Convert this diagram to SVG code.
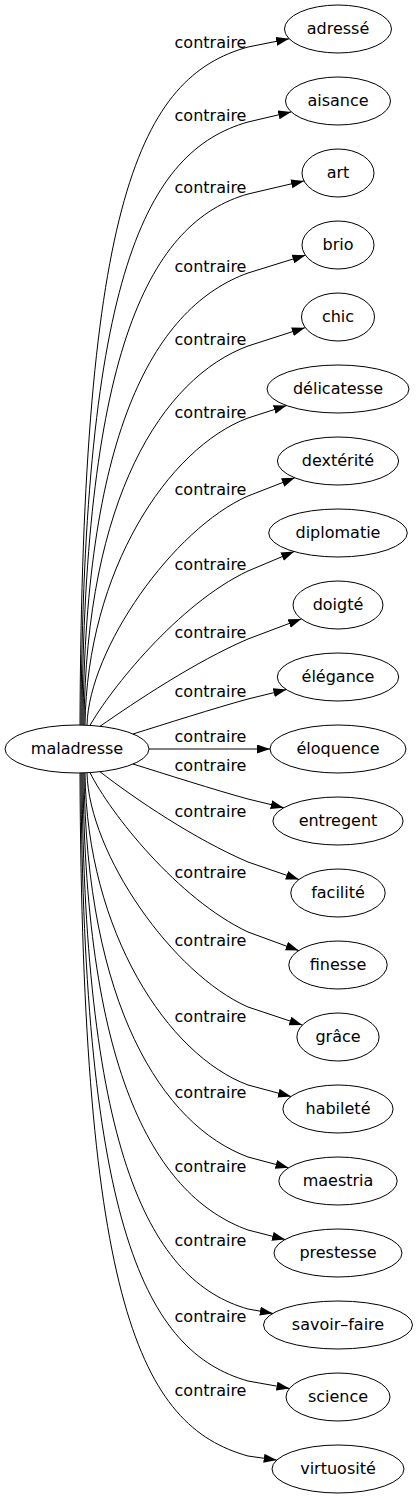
<svg xmlns="http://www.w3.org/2000/svg" width="417" height="1499" viewBox="0 0 417 1499">
<style>
.n ellipse{fill:none;stroke:#000;stroke-width:1}
text{font-family:"DejaVu Sans",sans-serif;font-size:16px;text-anchor:middle;fill:#000}
.e path{fill:none;stroke:#000;stroke-width:1;marker-end:url(#a)}
</style>
<defs><marker id="a" markerUnits="userSpaceOnUse" markerWidth="14" markerHeight="10" refX="13" refY="4.5" orient="auto"><path d="M0,0 L13,4.5 L0,9 z" fill="#000"/></marker></defs>
<rect width="417" height="1499" fill="#fff"/>
<g id="edges">
<g class="e"><path d="M80,725 C82,200 140,77 248,47 L289.1,38.8"/><text x="210.5" y="48">contraire</text></g>
<g class="e"><path d="M81,725 C83,275 146,150.9 248,122 L291.2,111.9"/><text x="210.5" y="121">contraire</text></g>
<g class="e"><path d="M82,725 C84,347 151,221.5 248,194 L304,180.9"/><text x="210.5" y="193">contraire</text></g>
<g class="e"><path d="M83,725 C85,426 157,305.9 248,273 L305.4,255.2"/><text x="210.5" y="272">contraire</text></g>
<g class="e"><path d="M84,725 C86,499 162,378 248,346 L304.9,327.7"/><text x="210.5" y="345">contraire</text></g>
<g class="e"><path d="M85,725 C87,571 168,447.8 248,418 L286.6,405.6"/><text x="210.5" y="418">contraire</text></g>
<g class="e"><path d="M87,725 C89,649 173,528.9 248,496 L294.8,477.8"/><text x="210.5" y="495">contraire</text></g>
<g class="e"><path d="M90,725.4 C110,690 178,604 248,571 L294.1,551.6"/><text x="210.5" y="570">contraire</text></g>
<g class="e"><path d="M100,726.3 C135,702 195,661.7 248,639 L301.3,618.9"/><text x="210.5" y="638">contraire</text></g>
<g class="e"><path d="M133,734 C165,724 215,708 248,699 L286.4,689.6"/><text x="210.5" y="697">contraire</text></g>
<g class="e"><path d="M149,749 L270,749"/><text x="210.5" y="742">contraire</text></g>
<g class="e"><path d="M133,764 C165,774 215,790 248,799 L283.7,807.7"/><text x="210.5" y="771">contraire</text></g>
<g class="e"><path d="M100,771.7 C135,799 195,839.3 248,862 L298.9,879.5"/><text x="210.5" y="817">contraire</text></g>
<g class="e"><path d="M90,772.6 C110,813 178,899 248,932 L298.7,950.6"/><text x="210.5" y="878">contraire</text></g>
<g class="e"><path d="M87,773 C89,854 173,974.1 248,1007 L302.3,1025.1"/><text x="210.5" y="946">contraire</text></g>
<g class="e"><path d="M85,773 C87,932 168,1055.2 248,1085 L291,1096.5"/><text x="210.5" y="1022">contraire</text></g>
<g class="e"><path d="M84,773 C86,1004 162,1125 248,1157 L288.5,1167.8"/><text x="210.5" y="1098">contraire</text></g>
<g class="e"><path d="M83,773 C85,1077 157,1197.1 248,1230 L285.1,1239.5"/><text x="210.5" y="1172">contraire</text></g>
<g class="e"><path d="M82,773 C84,1156 151,1281.5 248,1309 L272.8,1313.4"/><text x="210.5" y="1246">contraire</text></g>
<g class="e"><path d="M81,773 C83,1228 146,1352.1 248,1381 L289.5,1388.4"/><text x="210.5" y="1322">contraire</text></g>
<g class="e"><path d="M80,773 C82,1303 140,1426 248,1456 L276.7,1460.1"/><text x="210.5" y="1396">contraire</text></g>
</g>
<g id="maladresse" class="n"><ellipse cx="77" cy="749" rx="72" ry="24"/><text x="77" y="754">maladresse</text></g>
<g id="adresse" class="n"><ellipse cx="338" cy="29" rx="53.5" ry="24"/><text x="338" y="34">adressé</text></g>
<g id="aisance" class="n"><ellipse cx="338" cy="101" rx="52.5" ry="24"/><text x="338" y="106">aisance</text></g>
<g id="art" class="n"><ellipse cx="338" cy="173" rx="36" ry="24"/><text x="338" y="178">art</text></g>
<g id="brio" class="n"><ellipse cx="338" cy="245" rx="36" ry="24"/><text x="338" y="250">brio</text></g>
<g id="chic" class="n"><ellipse cx="338" cy="317" rx="36.5" ry="24"/><text x="338" y="322">chic</text></g>
<g id="delicatesse" class="n"><ellipse cx="338" cy="389" rx="71" ry="24"/><text x="338" y="394">délicatesse</text></g>
<g id="dexterite" class="n"><ellipse cx="338" cy="461" rx="60.6" ry="24"/><text x="338" y="466">dextérité</text></g>
<g id="diplomatie" class="n"><ellipse cx="338" cy="533" rx="69.3" ry="24"/><text x="338" y="538">diplomatie</text></g>
<g id="doigte" class="n"><ellipse cx="338" cy="605" rx="45" ry="24"/><text x="338" y="610">doigté</text></g>
<g id="elegance" class="n"><ellipse cx="338" cy="677" rx="60.7" ry="24"/><text x="338" y="682">élégance</text></g>
<g id="eloquence" class="n"><ellipse cx="338" cy="749" rx="68" ry="24"/><text x="338" y="754">éloquence</text></g>
<g id="entregent" class="n"><ellipse cx="338" cy="821" rx="65.1" ry="24"/><text x="338" y="826">entregent</text></g>
<g id="facilite" class="n"><ellipse cx="338" cy="893" rx="47.2" ry="24"/><text x="338" y="898">facilité</text></g>
<g id="finesse" class="n"><ellipse cx="338" cy="965" rx="49.2" ry="24"/><text x="338" y="970">finesse</text></g>
<g id="grace" class="n"><ellipse cx="338" cy="1037" rx="41.1" ry="24"/><text x="338" y="1042">grâce</text></g>
<g id="habilete" class="n"><ellipse cx="338" cy="1109" rx="55.1" ry="24"/><text x="338" y="1114">habileté</text></g>
<g id="maestria" class="n"><ellipse cx="338" cy="1181" rx="59.2" ry="24"/><text x="338" y="1186">maestria</text></g>
<g id="prestesse" class="n"><ellipse cx="338" cy="1253" rx="64" ry="24"/><text x="338" y="1258">prestesse</text></g>
<g id="savoir-faire" class="n"><ellipse cx="338" cy="1325" rx="74.5" ry="24"/><text x="338" y="1330">savoir–faire</text></g>
<g id="science" class="n"><ellipse cx="338" cy="1397" rx="52" ry="24"/><text x="338" y="1402">science</text></g>
<g id="virtuosite" class="n"><ellipse cx="338" cy="1469" rx="66" ry="24"/><text x="338" y="1474">virtuosité</text></g>
</svg>
